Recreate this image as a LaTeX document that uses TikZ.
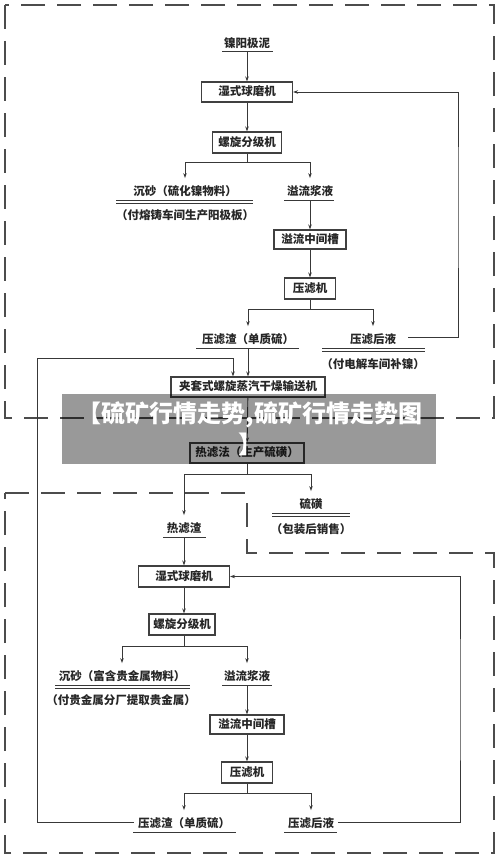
\documentclass[tikz,border=0pt]{standalone}
\usepackage{fontspec}
\newfontfamily\cjk{Noto Sans CJK SC}
\usetikzlibrary{arrows.meta,calc}
\tikzset{
 every node/.style={font=\cjk\bfseries\fontsize{11.5}{13}\selectfont, text=black!85},
 box/.style={draw=black!75, line width=1.1pt, inner xsep=3pt, inner ysep=0pt, text height=8.5pt, text depth=1.5pt},
 lab/.style={inner xsep=2pt, inner ysep=2.5pt, text height=9pt, text depth=1.5pt, anchor=south},
 sub/.style={inner sep=1pt},
 ln/.style={draw=black!78, line width=0.9pt},
 ul/.style={draw=black!78, line width=1pt},
 arr/.style={ln, -{Stealth[length=5pt,width=3.5pt]}},
 tolab/.style={arr, shorten >=6pt},
 dashbox/.style={draw=black!70, line width=1.4pt, dash pattern=on 24pt off 12pt},
}
\begin{document}
\begin{tikzpicture}[x=1pt,y=-1pt]
\useasboundingbox (0,0) rectangle (500,859);
\fill[white] (0,0) rectangle (500,859);
% dashed frames
\draw[dashbox] (5,5) rectangle (494,418);
\draw[dashbox] (5,493) -- (247,493) -- (247,553) -- (494,553) -- (494,853) -- (5,853) -- cycle;
% ---------- upper part ----------
\node[lab] (n0) at (247,52) {镍阳极泥};
\draw[ul] (222,52) -- (273,52);
\node[box, minimum width=91pt, minimum height=20pt] (b1) at (247,92) {湿式球磨机};
\node[box, minimum width=69pt, minimum height=21pt] (b2) at (247,142.5) {螺旋分级机};
\coordinate (j1) at (247,162);
\node[lab] (s1) at (185,200) {沉砂（硫化镍物料）};
\draw[ul] (116,200) -- (253,200);
\draw[ul] (116,203.5) -- (253,203.5);
\node[sub] (s1s) at (185,215) {（付熔铸车间生产阳极板）};
\node[lab] (o1) at (310,200) {溢流浆液};
\draw[ul] (284,200) -- (334,200);
\node[box, minimum width=72pt, minimum height=19pt] (b3) at (310,239.5) {溢流中间槽};
\node[box, minimum width=51pt, minimum height=21pt] (b4) at (310,288.5) {压滤机};
\coordinate (j2) at (310,309);
\node[lab] (f1) at (248,348) {压滤渣（单质硫）};
\draw[ul] (196,348) -- (299,348);
\node[lab] (l1) at (373,348) {压滤后液};
\draw[ul] (322,348) -- (425,348);
\draw[ul] (322,351.5) -- (425,351.5);
\node[sub] (l1s) at (373,364) {（付电解车间补镍）};
\coordinate (rt1) at (458,200);
\node[box, minimum width=154pt, minimum height=20pt] (b5) at (248,387) {夹套式螺旋蒸汽干燥输送机};
\coordinate (lt) at (37,358);
% ---------- middle ----------
\node[box, minimum width=114pt, minimum height=20pt] (b6) at (247,453) {热滤法（生产硫磺）};
\coordinate (j3) at (247,474);
\node[lab] (s2) at (311,513) {硫磺};
\draw[ul] (272,513) -- (350,513);
\draw[ul] (272,516.5) -- (350,516.5);
\node[sub] (s2s) at (311,529) {（包装后销售）};
\node[lab] (r1) at (184,537) {热滤渣};
\draw[ul] (163,537) -- (206,537);
% ---------- lower part ----------
\node[box, minimum width=91pt, minimum height=21pt] (b7) at (184,576.5) {湿式球磨机};
\node[box, minimum width=66pt, minimum height=21pt] (b8) at (182,624.5) {螺旋分级机};
\coordinate (j4) at (184,646);
\node[lab] (s3) at (122,685) {沉砂（富含贵金属物料）};
\draw[ul] (55,685) -- (190,685);
\draw[ul] (55,688.5) -- (190,688.5);
\node[sub] (s3s) at (121,700) {（付贵金属分厂提取贵金属）};
\node[lab] (o2) at (247,685) {溢流浆液};
\draw[ul] (222,685) -- (272,685);
\node[box, minimum width=74pt, minimum height=19pt] (b9) at (247,724.5) {溢流中间槽};
\node[box, minimum width=51pt, minimum height=21pt] (b10) at (247,772.5) {压滤机};
\coordinate (j5) at (247,793);
\node[lab] (f2) at (184,832) {压滤渣（单质硫）};
\draw[ul] (133,832) -- (236,832);
\node[lab] (l2) at (311,832) {压滤后液};
\draw[ul] (284,832) -- (337,832);
\coordinate (rt2) at (460,700);
% ---------- connectors ----------
\draw[arr] (n0) -- (b1);
\draw[arr] (b1) -- (b2);
\draw[ln] (b2) -- (j1);
\draw[tolab] (j1) -| (s1);
\draw[tolab] (j1) -| (o1);
\draw[arr] (o1) -- (b3);
\draw[arr] (b3) -- (b4);
\draw[ln] (b4) -- (j2);
\draw[tolab] (j2) -| (f1);
\draw[tolab] (j2) -| (l1);
\draw[arr] ([xshift=10pt,yshift=3pt]l1.east) -| (rt1) |- (b1.east);
\draw[arr] (f1) -- (b5);
\draw[arr] ([xshift=-2pt,yshift=2pt]f2.west) -| (lt) -| ([xshift=-15pt]b5.north);
\draw[arr] (b5) -- (b6);
\draw[ln] (b6) -- (j3);
\draw[tolab] (j3) -| (s2);
\draw[tolab] (j3) -| (r1);
\draw[arr] (r1) -- (b7);
\draw[arr] (b7.south) -- (b7.south |- b8.north);
\draw[ln] (b8.south -| j4) -- (j4);
\draw[tolab] (j4) -| (s3);
\draw[tolab] (j4) -| (o2);
\draw[arr] (o2) -- (b9);
\draw[arr] (b9) -- (b10);
\draw[ln] (b10) -- (j5);
\draw[tolab] (j5) -| (f2);
\draw[tolab] (j5) -| (l2);
\draw[arr] ([xshift=2pt,yshift=2pt]l2.east) -| (rt2) |- (b7.east);
% ---------- watermark ----------
\fill[black, opacity=0.4] (62,394) rectangle (436,464);
\node[font=\cjk\bfseries\fontsize{24}{31}\selectfont, text=white, align=center] (wm) at (250,429) {【硫矿行情走势,硫矿行情走势图\\】};
\end{tikzpicture}
\end{document}
